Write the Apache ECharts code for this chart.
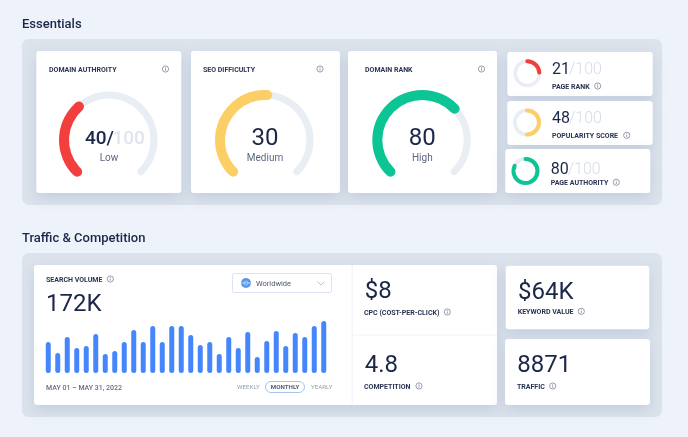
<!DOCTYPE html>
<html><head><meta charset="utf-8">
<style>html,body{margin:0;padding:0;background:#eef2fa;overflow:hidden}#c{width:688px;height:437px}</style>
<script src="https://cdn.jsdelivr.net/npm/echarts@6/dist/echarts.min.js"></script>
</head><body><div id="c"></div>
<script>
const barDays = Array.from({length:30},(_,i)=>String(i+1));
const barValues = [31,20,36,25,27,39,19,22,31,43,31,47,31,47,47,38,28,31,19,36,25,41,16,32,42,27,40,36,47,52];
const gaugeTitles = ['DOMAIN AUTHROITY','SEO DIFFICULTY','DOMAIN RANK'];
const gaugeArcs = [34.5,51,67];
const gaugeScores = ['40','30','80'];
const gaugeWords = ['Low','Medium','High'];
const ringTitles = ['PAGE RANK','POPULARITY SCORE','PAGE AUTHORITY'];
const ringArcs = [24,50,82];
const ringScores = ['21','48','80'];
const metricTitles = ['CPC (COST-PER-CLICK)','COMPETITION','KEYWORD VALUE','TRAFFIC'];
const metricValues = ['$8','4.8','$64K','8871'];

const INK='#1b2748', LABEL='#2a3452', MUTE='#5d6780', FAINT='#dfe5ef', TRACK='#e9eef5';
const gaugeColors=['#f23e3d','#fcce66','#0cc494'];
const g=[];
const F='Roboto, sans-serif';
function rect(x,y,w,h,r,fill,shadow,z){
  g.push({type:'rect',z:z||1,shape:{x,y,width:w,height:h,r},silent:true,
    style:Object.assign({fill},shadow?{shadowBlur:14,shadowOffsetY:5,shadowColor:'rgba(130,150,185,0.28)'}:{})});
}
function text(x,y,t,font,fill,align){
  const size=parseFloat(font.split(' ')[1]);
  g.push({type:'text',z:6,x,y:y+0.5+size*0.07,silent:true,style:{text:t,font,fill,textAlign:align||'left',textVerticalAlign:'middle'}});
}
function info(x,y){
  g.push({type:'circle',z:6,silent:true,shape:{cx:x,cy:y,r:3.1},style:{fill:'none',stroke:'#6d768c',lineWidth:.7}});
  g.push({type:'line',z:6,silent:true,shape:{x1:x,y1:y-.6,x2:x,y2:y+1.8},style:{stroke:'#6d768c',lineWidth:.7}});
  g.push({type:'line',z:6,silent:true,shape:{x1:x,y1:y-1.9,x2:x,y2:y-1.1},style:{stroke:'#6d768c',lineWidth:.7}});
}
const cap=(x,y,t)=>text(x,y,t,'700 7px '+F,LABEL);

// section headings and panels
text(22,23,'Essentials','500 13px '+F,INK);
text(22,237,'Traffic & Competition','500 13px '+F,INK);
rect(125,26.5,537,.6,0,'#f1f4fa');
rect(140,241,522,.6,0,'#f1f4fa');
rect(22,39,640,166,7,'#dce3ec');
rect(22,253,640,164,7,'#dce3ec');

// top cards
[[36.3,145],[191,149],[348,149]].forEach(([x,w])=>rect(x,51,w,142,3,'#fff',true,2));
rect(507.3,52,145.4,44,3,'#fff',true,2);
rect(507.3,101,145.4,44,3,'#fff',true,2);
rect(505.3,149,145,44,3,'#fff',true,2);
// bottom cards
rect(34,265,463,140,3,'#fff',true,2);
rect(505.7,265.7,143.6,63.5,3,'#fff',true,2);
rect(505,339,145,66,3,'#fff',true,2);
rect(351.5,265,1.4,140,0,'#f3f5fa',false,3);
rect(352,334.4,145,1.3,0,'#f3f5fa',false,3);

// gauge card text
const gaugeCx=[109,265,422.3], titleX=[49,203,365], infoX=[165.5,320,481.5];
gaugeTitles.forEach((t,i)=>{cap(titleX[i],69,t);info(infoX[i],69);});
text(85,137,gaugeScores[0]+'/','500 19px '+F,INK);
text(112.5,137,'100','500 19px '+F,FAINT);
text(gaugeCx[1],137,gaugeScores[1],'400 24px '+F,INK,'center');
text(gaugeCx[2],137,gaugeScores[2],'400 24px '+F,INK,'center');
gaugeWords.forEach((t,i)=>text(gaugeCx[i],157,t,'400 10px '+F,MUTE,'center'));

// ring card text
const ringTextX=[552,552,550.7], ringNumY=[68.3,117.7,168.3], ringCapY=[86,135.3,182.3], ringInfoX=[597.7,626.7,616.3];
ringTitles.forEach((t,i)=>{
  text(ringTextX[i],ringNumY[i],ringScores[i],'400 16px '+F,INK);
  text(ringTextX[i]+17,ringNumY[i],'/100','300 16px '+F,'#d5dce8');
  cap(ringTextX[i],ringCapY[i],t);info(ringInfoX[i],ringCapY[i]);
});

// search volume card
cap(46,279,'SEARCH VOLUME');info(110.3,279);
text(46,302.5,'172K','400 24px '+F,INK);
g.push({type:'rect',z:6,silent:true,shape:{x:232.5,y:273.5,width:99,height:19,r:2},style:{fill:'#fff',stroke:'#cfdcf0',lineWidth:.8}});
g.push({type:'circle',z:6,silent:true,shape:{cx:246,cy:283,r:5},style:{fill:'#5a97ea'}});
g.push({type:'line',z:7,silent:true,shape:{x1:241,y1:283,x2:251,y2:283},style:{stroke:'#cfe0f8',lineWidth:.8}});
g.push({type:'circle',z:7,silent:true,shape:{cx:246,cy:283,r:2},style:{fill:'none',stroke:'#cfe0f8',lineWidth:.6}});
text(256,283,'Worldwide','400 7.5px '+F,'#4f5870');
g.push({type:'polyline',z:6,silent:true,shape:{points:[[317.5,281.5],[321,285],[324.5,281.5]]},style:{fill:'none',stroke:'#a9b1c2',lineWidth:.8}});
text(46,387,'MAY 01 – MAY 31, 2022','500 7px '+F,'#666f85');
text(237,387,'WEEKLY','400 6.2px '+F,'#969eaf');
text(311,387,'YEARLY','400 6.2px '+F,'#969eaf');
g.push({type:'rect',z:6,silent:true,shape:{x:265.5,y:381.5,width:39,height:11,r:5.5},style:{fill:'#fff',stroke:'#8db5ea',lineWidth:.8}});
text(285,387,'MONTHLY','700 6.2px '+F,'#555e75','center');

// metrics
const mX=[364.7,364.7,518,517.3], mY=[289.7,363.7,290.7,363.7], mcX=[364,364,517.7,517], mcY=[312,386,311.3,386], miX=[447.3,419,581.3,552.7];
metricTitles.forEach((t,i)=>{
  text(mX[i],mY[i],metricValues[i],'400 24px '+F,INK);
  cap(mcX[i],mcY[i],t);info(miX[i],mcY[i]);
});

function hidden(){return {splitLine:{show:false},axisTick:{show:false},axisLabel:{show:false},pointer:{show:false},anchor:{show:false},title:{show:false},detail:{show:false}};}
function track(cx,cy,r,w,sa,ea){
  return Object.assign({type:'gauge',z:4,silent:true,center:[cx,cy],radius:r,startAngle:sa,endAngle:ea,min:0,max:100,
    axisLine:{roundCap:true,lineStyle:{width:w,color:[[1,TRACK]]}},progress:{show:false},data:[{value:0}]},hidden());
}
function arc(cx,cy,r,w,sa,ea,v,col){
  return Object.assign({type:'gauge',z:5,silent:true,center:[cx,cy],radius:r,startAngle:sa,endAngle:ea,min:0,max:100,
    axisLine:{show:false},progress:{show:true,roundCap:true,width:w,itemStyle:{color:col}},data:[{value:v}]},hidden());
}
const series=[];
gaugeArcs.forEach((v,i)=>{
  series.push(track(gaugeCx[i],140,48.5,7,225,-45));
  series.push(arc(gaugeCx[i],140,50,10,225,-45,v,gaugeColors[i]));
});
const ringC=[[527.3,73.3],[527,122.5],[525.5,171]];
ringArcs.forEach((v,i)=>{
  series.push(track(ringC[i][0],ringC[i][1],14,3.6,90,-270));
  series.push(arc(ringC[i][0],ringC[i][1],14,4,90,-270,v,gaugeColors[i]));
});
series.push({type:'bar',z:5,silent:true,data:barValues,barWidth:5,itemStyle:{color:'#4686fd',borderRadius:2.5}});

echarts.init(document.getElementById('c'),null,{renderer:'canvas'}).setOption({
  animation:false,
  backgroundColor:'#eef2fa',
  grid:{left:43.5,top:313,width:285,height:60},
  xAxis:{type:'category',data:barDays,show:false},
  yAxis:{type:'value',min:0,max:60,show:false},
  graphic:{elements:g},
  series
});
</script></body></html>
